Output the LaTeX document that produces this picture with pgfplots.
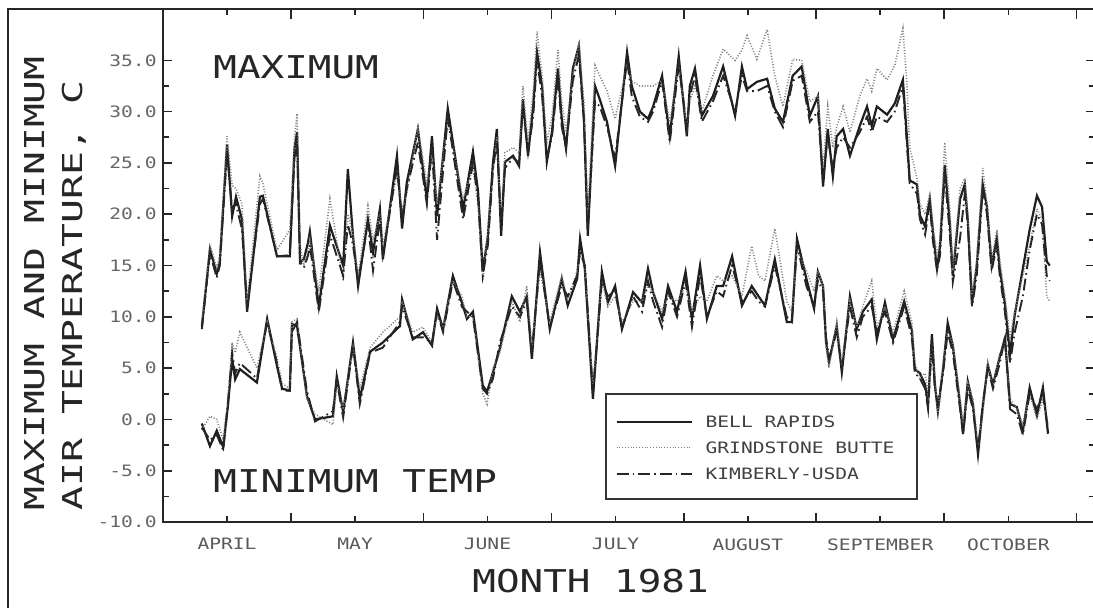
\documentclass[border=0pt]{standalone}
\usepackage{fontspec}
\usepackage{pgfplots}
\usepackage{pgfplotstable}
\pgfplotsset{compat=1.18}
\newfontfamily\pf[FakeStretch=1.25]{DejaVu Sans Mono}
\newfontfamily\pfw[FakeStretch=1.45]{DejaVu Sans Mono}
\newcommand\smallpf{\pf\fontsize{7.84}{9}\selectfont}
\newcommand\bigpf{\pf\fontsize{15.7}{18}\selectfont}
\newcommand\ylabpf{\pfw\fontsize{13.7}{16}\selectfont}

% day of year, Bell Rapids, Grindstone Butte, Kimberly-USDA
\pgfplotstableread{
d b g k
100.1 9.0 9.5 8.8
102.0 16.6 17.0 16.2
103.6 14.2 14.8 13.8
104.3 15.3 16.0 15.0
106.0 26.8 27.6 26.0
107.2 19.8 22.8 20.5
108.1 21.7 22.5 21.0
109.5 19.5 21.0 18.5
110.7 10.5 11.5 11.0
113.7 21.7 23.7 21.0
114.4 21.8 23.0 21.5
117.7 15.9 16.5 15.9
120.7 15.9 18.5 16.0
121.8 26.4 27.5 25.5
122.4 28.0 29.8 27.0
123.1 15.3 17.0 15.3
124.0 15.6 15.0 14.8
125.0 17.3 16.5 16.0
125.4 18.3 17.5 17.0
127.5 11.0 12.5 10.5
130.1 18.9 21.5 18.0
133.2 15.0 13.5 14.0
134.3 24.4 20.0 19.0
135.5 17.9 18.0 17.0
136.7 13.0 14.0 13.5
139.0 19.5 20.8 19.0
140.2 16.3 17.5 14.5
141.8 20.5 20.0 19.5
142.5 15.6 17.0 16.0
145.8 25.7 24.0 24.5
147.0 18.6 20.5 19.5
148.1 23.1 22.0 22.5
150.7 28.3 28.5 27.0
152.8 21.5 23.0 21.0
154.0 27.6 26.0 26.5
155.2 19.8 21.0 17.5
157.7 30.3 29.0 29.5
161.3 20.5 21.5 19.5
163.6 26.1 24.5 25.0
164.8 22.2 21.0 21.5
165.9 14.4 13.5 14.0
167.1 17.9 18.5 17.0
168.3 25.1 24.0 24.5
169.2 28.3 27.5 27.0
170.2 17.9 19.5 19.0
171.1 25.1 26.0 24.5
173.0 25.7 26.5 25.5
174.4 24.7 26.0 25.0
175.3 31.2 32.5 30.5
176.5 25.7 27.0 26.0
177.7 30.5 32.0 29.5
178.6 35.8 37.8 35.0
179.8 32.5 33.5 31.5
180.9 25.1 27.0 25.5
182.1 28.0 29.5 27.5
183.5 34.2 36.0 33.5
184.4 29.3 31.0 28.5
185.4 26.4 28.0 26.5
187.0 34.2 33.5 33.0
188.4 36.4 36.8 35.5
189.6 29.3 31.0 29.0
190.5 17.9 20.0 18.5
192.2 32.5 34.5 31.0
193.3 31.2 33.5 30.5
195.0 29.0 32.0 28.5
196.9 24.7 29.3 25.5
199.7 35.8 34.5 35.0
200.8 32.5 33.0 31.5
202.7 30.0 32.5 29.5
204.6 29.3 32.5 29.0
205.8 30.5 32.5 30.0
207.9 33.5 33.0 33.0
209.7 27.6 29.0 27.0
211.8 35.4 34.5 34.5
213.7 27.6 28.5 28.5
214.4 32.5 31.0 31.5
215.6 34.2 32.5 33.5
217.2 29.6 30.0 29.0
219.8 31.5 33.5 31.0
222.2 34.4 36.1 33.5
225.0 29.6 35.0 30.0
226.6 34.4 36.0 33.5
227.8 32.2 37.4 32.0
230.1 32.9 35.1 32.0
232.5 33.2 38.0 32.5
234.3 30.3 33.5 30.0
236.2 29.0 30.5 28.5
238.5 33.5 35.1 33.0
240.6 34.4 35.0 33.5
242.5 29.6 31.0 29.0
244.4 31.5 31.5 30.0
245.6 22.7 24.5 23.5
246.7 28.3 30.5 27.5
247.9 23.7 26.5 24.5
248.8 27.6 28.5 26.5
250.3 28.3 30.5 27.5
251.9 25.7 28.0 26.5
254.2 28.6 31.5 28.0
255.9 30.5 33.2 29.5
257.0 28.6 32.0 28.0
258.2 30.5 34.2 29.5
260.6 29.7 33.1 29.0
262.4 30.8 34.5 30.0
264.3 33.1 38.1 32.5
265.2 27.8 33.0 27.0
265.9 23.3 26.5 23.0
267.6 22.9 23.5 22.0
268.3 19.9 21.0 19.5
269.5 18.8 20.0 18.0
270.6 21.5 22.0 21.0
271.3 18.5 19.0 17.5
272.3 14.7 16.0 14.5
273.0 16.9 17.5 16.0
274.1 24.8 27.0 24.0
275.3 19.1 20.5 18.0
276.0 14.0 14.5 13.4
277.7 21.5 22.5 17.7
278.8 22.9 23.5 22.0
279.5 19.5 20.0 19.0
280.5 11.3 12.0 11.0
281.6 15.0 15.5 14.0
283.0 22.9 24.5 22.5
284.0 20.7 21.0 20.0
285.1 15.0 15.5 14.5
286.3 17.7 18.5 17.0
287.0 14.7 15.5 14.0
288.2 11.3 12.0 10.5
289.4 6.4 8.0 5.5
290.5 10.2 10.5 8.5
292.4 14.7 14.0 12.0
294.0 18.5 17.0 16.5
295.7 21.8 20.5 20.0
296.9 20.7 19.5 19.0
298.0 15.4 12.0 14.0
298.7 15.0 11.5 13.5
}\maxdata

\pgfplotstableread{
d b g k
100.1 -0.4 -1.0 -0.8
102.0 -2.6 0.3 -2.0
103.6 -1.1 0.0 -1.5
105.1 -2.7 -2.0 -3.0
106.2 1.3 2.0 1.5
107.2 5.9 7.5 6.5
107.9 3.9 6.5 4.5
109.0 4.9 8.5 5.5
113.0 3.6 5.0 4.0
115.4 9.8 9.5 9.5
117.7 5.2 6.0 5.5
118.9 3.0 3.5 2.8
120.7 2.8 3.0 2.8
121.2 9.3 9.5 8.5
122.4 9.1 9.8 9.5
124.7 2.3 2.0 2.8
126.6 0.0 0.5 -0.2
130.8 0.3 -0.5 0.8
131.7 4.2 3.5 3.8
133.2 0.7 1.0 0.2
135.5 7.5 7.0 7.2
137.1 2.0 3.0 1.5
139.5 6.6 7.0 6.5
142.5 7.5 8.5 7.0
146.5 9.1 10.0 9.5
147.0 11.7 11.5 11.0
149.5 7.8 8.5 8.0
151.9 8.5 9.0 8.0
154.0 7.2 7.5 7.5
155.2 10.8 10.0 10.5
156.6 8.8 9.0 8.5
158.9 14.0 13.5 13.5
161.0 11.4 12.0 11.0
162.2 9.8 10.0 10.5
163.6 10.5 10.0 10.0
165.9 3.3 2.5 3.0
166.9 2.7 1.5 2.5
168.3 4.6 5.0 4.0
169.9 6.9 6.5 7.5
172.7 12.0 11.5 11.0
174.6 10.5 9.5 10.0
176.2 12.0 13.0 11.5
177.4 5.9 7.0 6.5
179.3 16.3 14.5 15.5
181.6 8.8 9.5 9.0
184.4 13.7 14.0 13.0
185.8 11.1 11.5 12.0
188.0 13.7 14.5 14.0
188.7 17.6 16.0 16.5
189.8 14.7 15.0 15.0
191.7 2.0 3.5 2.5
193.8 14.4 13.5 13.5
195.2 11.4 11.0 12.0
196.9 13.0 12.0 12.5
198.5 8.8 9.5 9.0
201.1 12.4 11.5 12.0
203.2 11.4 11.5 10.5
204.6 14.7 13.0 13.5
205.8 12.4 12.5 11.5
207.9 9.8 10.5 9.0
209.3 13.0 12.0 12.5
211.4 10.5 11.5 10.0
213.4 14.4 13.0 13.5
214.9 9.8 10.5 9.0
216.8 15.0 12.0 14.0
218.4 9.8 11.5 10.0
220.7 13.0 14.0 12.5
222.2 13.0 13.5 12.0
224.3 15.9 14.0 15.0
226.6 11.1 12.0 11.5
228.9 13.0 16.9 12.5
230.5 12.0 14.0 11.5
232.0 11.1 13.5 11.0
234.3 15.6 18.6 15.0
237.1 9.5 11.5 10.0
238.3 9.5 10.5 9.5
239.5 17.6 16.5 17.0
241.7 13.7 14.5 13.0
243.5 10.8 12.5 11.0
244.4 14.4 14.5 13.5
245.6 13.0 13.0 12.5
246.3 7.5 7.0 8.0
247.0 5.6 5.0 6.0
248.8 9.1 9.5 8.5
250.0 4.6 5.5 5.0
251.9 12.0 11.5 11.0
253.5 8.8 9.0 8.0
254.9 10.5 11.0 10.0
257.0 11.7 13.5 11.0
258.2 7.8 9.0 8.5
260.1 11.4 11.0 10.5
262.0 7.8 8.5 7.5
264.6 11.5 12.5 11.0
266.4 8.7 9.5 8.0
267.1 4.9 5.5 4.5
268.3 4.5 4.0 4.0
269.5 3.4 4.5 3.0
270.2 1.5 2.5 1.0
271.1 8.3 7.5 7.5
271.8 3.4 4.0 3.0
272.5 0.8 0.5 1.5
273.7 4.9 5.5 4.5
274.8 9.4 8.5 8.5
276.0 7.2 7.5 6.5
277.7 1.5 2.0 1.0
278.4 -1.4 -0.5 -1.5
279.5 3.7 3.5 3.0
280.7 1.5 2.0 1.0
281.9 -3.4 -2.5 -3.0
283.0 1.2 0.5 1.5
284.2 5.3 5.5 5.0
285.4 3.4 3.0 3.0
287.0 6.1 6.5 5.5
288.2 7.9 7.5 8.0
289.4 1.5 2.0 1.0
291.0 1.2 1.0 0.5
292.4 -1.1 -0.5 -1.5
294.0 3.1 2.5 2.5
295.7 0.4 0.0 1.0
297.1 3.1 2.0 2.5
298.3 -1.4 -0.5 -1.0
}\mindata

\begin{document}
\begin{tikzpicture}
\begin{axis}[
  at={(0pt,0pt)}, anchor=south west,
  scale only axis, width=466pt, height=256.5pt,
  xmin=91, xmax=309.3, ymin=-10, ymax=40,
  axis line style={line width=1pt, black!85},
  tick style={line width=0.8pt, black!85},
  tick align=inside, xtick pos=both, ytick pos=both,
  major tick length=4.75pt, minor tick length=3pt,
  xtick={91,121,152,182,213,244,274,305},
  xticklabels={,,,,,,,},
  extra x ticks={106,136,167,197,228,259,289},
  extra x tick labels={APRIL,MAY,JUNE,JULY,AUGUST,SEPTEMBER,OCTOBER},
  extra x tick style={major tick length=3pt, tick style={line width=0.8pt, black!85}},
  ytick={-10,-5,0,5,10,15,20,25,30,35},
  yticklabels={-10.0,-5.0,0.0,5.0,10.0,15.0,20.0,25.0,30.0,35.0},
  minor y tick num=1,
  yticklabel style={font=\smallpf, text=black!60, inner sep=0pt, xshift=-3pt},
  xticklabel style={font=\smallpf, text=black!65, inner sep=0pt, yshift=-8pt},
  legend style={at={(0.485,0.2076)}, anchor=north west, draw=none, fill=none,
    inner sep=0pt, font=\smallpf, text=black!75, row sep=7.3pt, column sep=6.5pt,
    nodes={inner sep=0pt, text height=5.7pt, text depth=0pt}},
  legend cell align=left,
  legend image code/.code={\draw[#1] (0pt,0pt) -- (37.5pt,0pt);},
]
\addplot[black!88, line width=1.1pt] table[x=d,y=b]{\maxdata};
\addlegendentry{BELL RAPIDS}
\addplot[black!50, line width=0.8pt, dash pattern=on 0.5pt off 0.9pt] table[x=d,y=g]{\maxdata};
\addlegendentry{GRINDSTONE BUTTE}
\addplot[black!85, line width=0.95pt, dash pattern=on 6pt off 2pt on 0.8pt off 2pt] table[x=d,y=k]{\maxdata};
\addlegendentry{KIMBERLY-USDA}
\addplot[forget plot, black!88, line width=1.1pt] table[x=d,y=b]{\mindata};
\addplot[forget plot, black!50, line width=0.8pt, dash pattern=on 0.5pt off 0.9pt] table[x=d,y=g]{\mindata};
\addplot[forget plot, black!85, line width=0.95pt, dash pattern=on 6pt off 2pt on 0.8pt off 2pt] table[x=d,y=k]{\mindata};
\end{axis}
\draw[line width=0.9pt, black!85] (-77.35pt,-60pt) -- (-77.35pt,256.5pt) -- (480pt,256.5pt);
\draw[line width=0.8pt, black!80] (221.5pt,11.5pt) rectangle (377pt,64pt);
\node[anchor=base west, inner sep=0pt, font=\bigpf, text=black!85] at (25pt,222pt) {MAXIMUM};
\node[anchor=base west, inner sep=0pt, font=\bigpf, text=black!85] at (25pt,15pt) {MINIMUM TEMP};
\node[anchor=base west, inner sep=0pt, font=\bigpf, text=black!85] at (154.5pt,-35pt) {MONTH 1981};
\node[rotate=90, anchor=base west, inner sep=0pt, font=\ylabpf, text=black!85] at (-59pt,5.5pt) {MAXIMUM AND MINIMUM};
\node[rotate=90, anchor=base west, inner sep=0pt, font=\ylabpf, text=black!85] at (-40pt,5.5pt) {AIR TEMPERATURE, C};
\pgfresetboundingbox
\path[use as bounding box] (-81.5pt,-42.5pt) rectangle (465pt,261pt);
\end{tikzpicture}
\end{document}
